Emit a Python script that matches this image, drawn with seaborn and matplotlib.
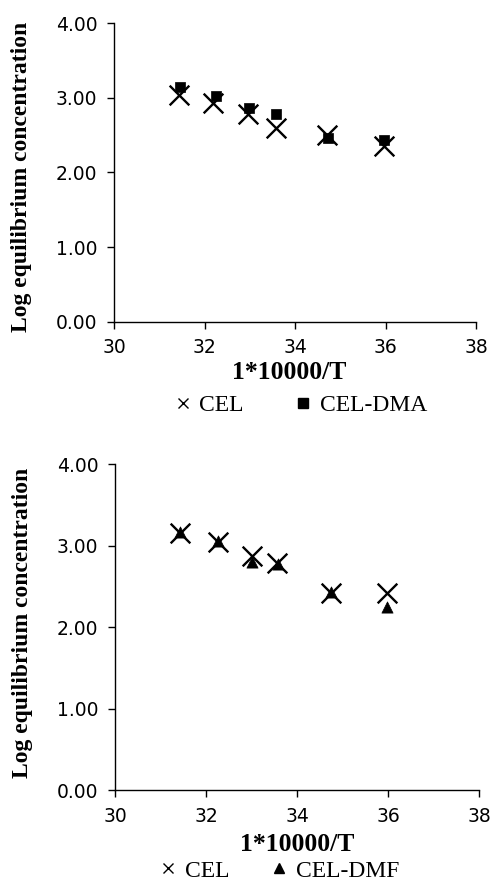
import matplotlib
matplotlib.use("Agg")
import matplotlib.pyplot as plt
import seaborn as sns
import pandas as pd
from matplotlib.lines import Line2D

# ---- data ----
x_cel_dma = [31.44, 32.19, 32.95, 33.57, 34.71, 35.97]
y_cel_top = [3.04, 2.93, 2.79, 2.59, 2.50, 2.35]
x_dma = [31.46, 32.25, 32.98, 33.58, 34.73, 35.97]
y_dma = [3.14, 3.03, 2.87, 2.79, 2.46, 2.44]

x_cel_dmf = [31.43, 32.27, 33.00, 33.55, 34.74, 35.97]
y_cel_bot = [3.15, 3.05, 2.87, 2.79, 2.42, 2.42]
x_dmf = [31.43, 32.27, 33.02, 33.57, 34.74, 35.98]
y_dmf = [3.17, 3.06, 2.80, 2.78, 2.43, 2.25]

xticks = [30, 32, 34, 36, 38]
yticks = [0.0, 1.0, 2.0, 3.0, 4.0]
ylabel = "Log equilibrium concentration"
xlabel = "1*10000/T"

sns.set_style("ticks")
plt.rcParams['font.family'] = ['DejaVu Sans']
plt.rcParams.update({'text.color': 'black', 'axes.labelcolor': 'black',
                     'xtick.color': 'black', 'ytick.color': 'black',
                     'axes.edgecolor': 'black'})

fig = plt.figure(figsize=(4.94, 8.85), dpi=100)

def panel(rect, xc, yc, xs, ys, second_marker, second_label, ylab_y, xlab_x, leg_xy, colsp):
    ax = fig.add_axes(rect)
    df1 = pd.DataFrame({"x": xc, "y": yc})
    df2 = pd.DataFrame({"x": xs, "y": ys})
    ms = 55 if second_marker == 's' else 65
    sns.scatterplot(data=df2, x="x", y="y", marker=second_marker, color="black",
                    s=ms, edgecolor="black", linewidth=0.5, ax=ax, zorder=3)
    sns.scatterplot(data=df1, x="x", y="y", marker="x", color="black",
                    s=200, linewidth=1.7, ax=ax, zorder=4)
    ax.set_xlim(30, 38)
    ax.set_ylim(0, 4)
    ax.set_xticks(xticks)
    ax.set_yticks(yticks)
    ax.set_yticklabels([f"{v:.2f}" for v in yticks])
    ax.tick_params(axis='both', labelsize=13.5, length=5, width=1, color='black',
                   labelcolor='black', direction='out')
    ax.tick_params(axis='y', pad=7)
    ax.tick_params(axis='x', pad=7)
    for s in ['top', 'right']:
        ax.spines[s].set_visible(False)
    for s in ['left', 'bottom']:
        ax.spines[s].set_color('black')
        ax.spines[s].set_linewidth(1)
    ax.set_xlabel(xlabel, family=['Liberation Serif'], fontweight='bold', fontsize=18.5,
                  color='black')
    ax.set_ylabel(ylabel, family=['Liberation Serif'], fontweight='bold', fontsize=17,
                  color='black')
    ax.yaxis.set_label_coords(-0.226, ylab_y)
    ax.xaxis.set_label_coords(xlab_x, -0.132)
    handles = [
        Line2D([], [], marker='x', color='black', linestyle='None', markersize=7, markeredgewidth=1.0),
        Line2D([], [], marker=second_marker, color='black', linestyle='None', markersize=7),
    ]
    leg = fig.legend(handles, ["CEL", second_label], loc='center', bbox_to_anchor=leg_xy,
                     ncol=2, frameon=False, handlelength=0.6, handletextpad=0.4,
                     columnspacing=colsp, prop={'family': 'Liberation Serif', 'size': 17})
    for t in leg.get_texts():
        t.set_color('black')
    return ax

panel([0.2308, 0.6365, 0.7328, 0.3372], x_cel_dma, y_cel_top, x_dma, y_dma,
      's', "CEL-DMA", 0.486, 0.485, (0.61, 0.542), 2.2)
panel([0.2328, 0.1073, 0.7372, 0.3681], x_cel_dmf, y_cel_bot, x_dmf, y_dmf,
      '^', "CEL-DMF", 0.514, 0.50, (0.567, 0.016), 1.8)

fig.savefig("out.png", dpi=100)
